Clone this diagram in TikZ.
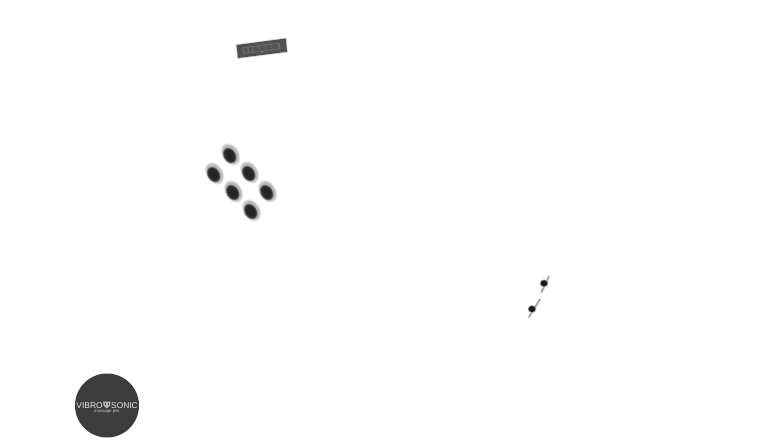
\documentclass[tikz,border=0pt]{standalone}
\usepackage{fontspec}
\setmainfont{Liberation Sans}
\definecolor{logogrey}{HTML}{3C3C3C}
\definecolor{panelgrey}{HTML}{515153}
\tikzset{
  halo/.style={fill=black!55,opacity=0.13},
  logotext/.style={text=white!92!black,inner sep=0pt,font=\fontsize{8.4}{9}\selectfont},
  subtext/.style={text=white!80!black,inner sep=0pt,font=\fontsize{4.3}{5}\selectfont},
  keymark/.style={fill=black!70,opacity=0.7}
}
\newcommand{\softjet}[2]{%
  \begin{scope}[shift={(#1,#2)},rotate=-58]
    \foreach \r/\s in {12.2/8.6,11.5/8.1,10.8/7.6,10.1/7.1}{
      \fill[halo,shift={(-0.2,-0.8)}] (0,0) ellipse [x radius=\r pt,y radius=\s pt];
    }
    \fill[white!72!black,shift={(-0.2,-0.8)}] (0,0) ellipse [x radius=9.2pt,y radius=6.6pt];
    \fill[black!45] (0.3,0.5) ellipse [x radius=8.5pt,y radius=6.2pt];
    \fill[black!68] (0.3,0.5) ellipse [x radius=7.8pt,y radius=5.7pt];
    \fill[black!82] (0.3,0.5) ellipse [x radius=7pt,y radius=5pt];
    \fill[black!86] (0.3,0.5) ellipse [x radius=5.5pt,y radius=3.6pt];
  \end{scope}}
\begin{document}
\begin{tikzpicture}[x=1pt,y=-1pt]
\useasboundingbox (0,0) rectangle (757,441);
\fill[white] (0,0) rectangle (757,441);

% panel
\fill[black!30,opacity=0.5] (235.5,44.5) -- (286.5,37.5) -- (288,52.5) -- (237.5,59) -- cycle;
\fill[panelgrey] (236.5,45) -- (285.8,38.5) -- (287,51.8) -- (238,58) -- cycle;
\begin{scope}[shift={(261.5,48.3)},rotate=7.3]
  \fill[black!40,opacity=0.35] (-19,-3.4) rectangle (19,3.4);
  \foreach \x/\w in {-18/4,-12.5/3,-8/5,-2/6,5/5,11/6}{
    \fill[keymark] (\x,-2.4) rectangle ++(\w,4.8);
  }
  \fill[white,opacity=0.45] (-0.5,3.4) rectangle ++(1.5,1);
\end{scope}

% six jets
\softjet{230}{155}
\softjet{249}{173}
\softjet{214}{174}
\softjet{233}{192}
\softjet{267}{192}
\softjet{251}{211}

% two small jets
\draw[black!12,line width=3pt,line cap=round] (548.5,277.5) -- (541.5,292);
\draw[black!12,line width=3pt,line cap=round] (540,300) -- (529,317);
\draw[black!40,line width=1.2pt,line cap=round] (549,276.5) -- (541.5,292);
\draw[black!40,line width=1.2pt,line cap=round] (540,299) -- (529,317);
\fill[black!40] (544,283.3) ellipse [x radius=4.3pt,y radius=3.8pt];
\fill[black!90] (544,283.3) ellipse [x radius=3.3pt,y radius=3pt];
\fill[black!40] (532,309) ellipse [x radius=4.3pt,y radius=3.8pt];
\fill[black!90] (532,309) ellipse [x radius=3.3pt,y radius=3pt];

% logo
\fill[logogrey] (107,405.5) circle [radius=32pt];
\node[logotext,anchor=east] (vibro) at (102.8,405.2) {VIBRO};
\node[logotext,anchor=west] (sonic) at (111,405.2) {SONIC};
\node[subtext] (sub) at (106.8,411.8) {massage jets};
\fill[white!72!black] (103.2,401.6) -- (110.4,401.6) -- (110.2,405.4) -- (106.8,408.4) -- (103.4,405.4) -- cycle;
\fill[logogrey] (105,403) rectangle (106.2,405);
\fill[logogrey] (107.5,403) rectangle (108.7,405);
\end{tikzpicture}
\end{document}
